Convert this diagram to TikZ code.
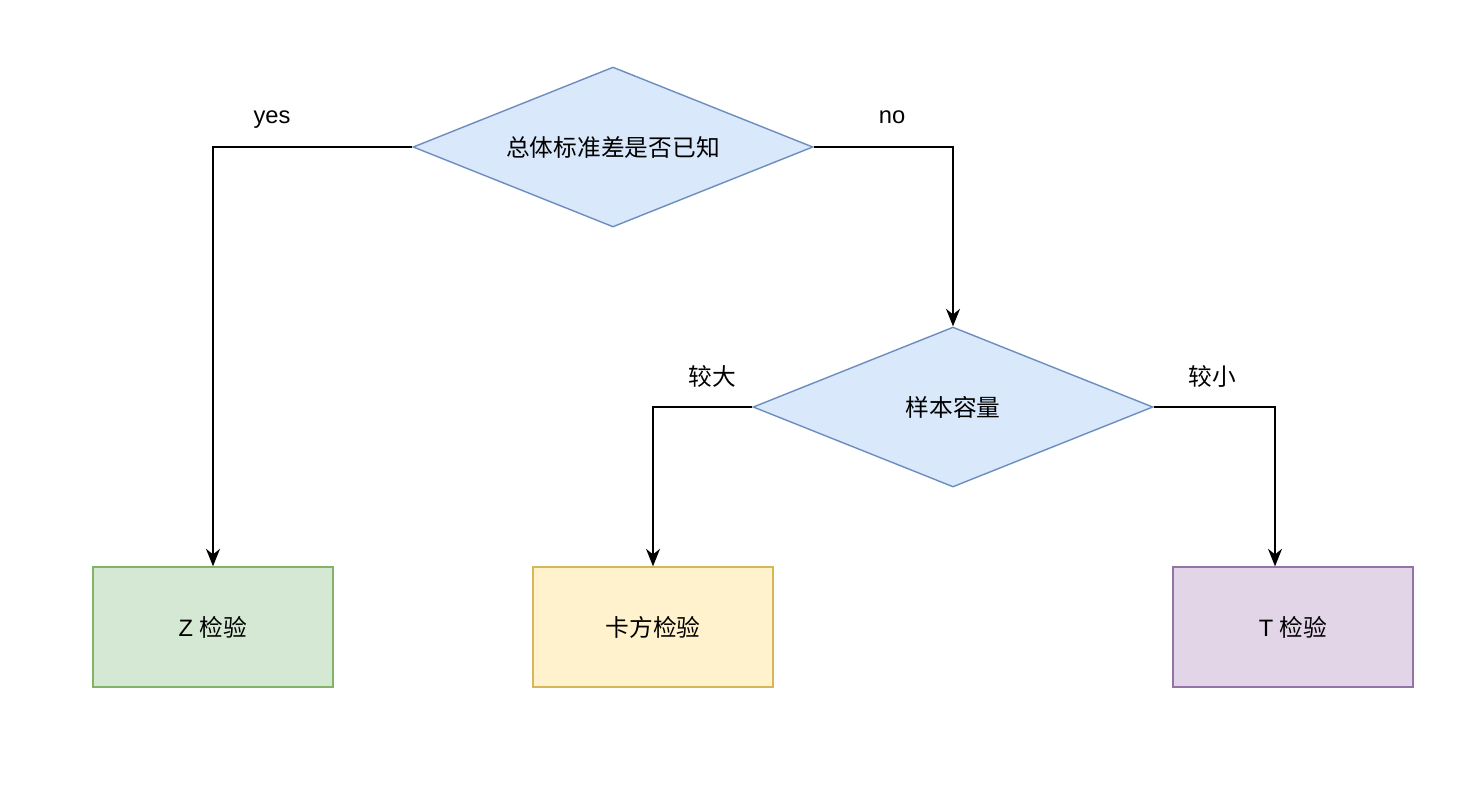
\documentclass[tikz,border=0pt]{standalone}
\usepackage{fontspec}
\setmainfont{Liberation Sans}
\newfontfamily\cjk{Noto Sans CJK SC}
\usepackage{tikz}
\usetikzlibrary{shapes.geometric,arrows.meta}
\definecolor{bluefill}{HTML}{DAE8FC}
\definecolor{blueline}{HTML}{6C8EBF}
\definecolor{greenfill}{HTML}{D5E8D4}
\definecolor{greenline}{HTML}{82B366}
\definecolor{yellowfill}{HTML}{FFF2CC}
\definecolor{yellowline}{HTML}{D6B656}
\definecolor{purplefill}{HTML}{E1D5E7}
\definecolor{purpleline}{HTML}{9673A6}

\begin{document}
\begin{tikzpicture}[
  x=0.02cm, y=-0.02cm,
  decision/.style={draw=blueline, fill=bluefill, diamond, aspect=2.5, minimum width=8cm, minimum height=3.2cm, inner sep=0pt, line width=0.8pt, font=\cjk\fontsize{13.5}{16}\selectfont},
  result/.style={draw, minimum width=4.8cm, minimum height=2.4cm, inner sep=0pt, line width=0.8pt, font=\fontsize{13.5}{16}\selectfont},
  lbl/.style={font=\fontsize{13.5}{16}\selectfont},
  >={Stealth[length=10pt,width=8pt]}
]
\useasboundingbox (0,0) rectangle (1476,796);

\node[decision] (known) at (613,147) {总体标准差是否已知};
\node[decision] (size) at (953,407) {样本容量};

\node[result, draw=greenline, fill=greenfill] (ztest) at (213,627) {Z {\cjk 检验}};
\node[result, draw=yellowline, fill=yellowfill] (chitest) at (653,627) {\cjk 卡方检验};
\node[result, draw=purpleline, fill=purplefill] (ttest) at (1293,627) {T {\cjk 检验}};

\node[lbl] (lyes) at (272,120) {yes};
\node[lbl] (lno) at (892,117) {no};
\node[lbl] (lbig) at (712,376) {\cjk 较大};
\node[lbl] (lsmall) at (1212,376) {\cjk 较小};

\draw[->, line width=0.8pt] (known.west) -| (ztest.north);
\draw[->, line width=0.8pt] (known.east) -| (size.north);
\draw[->, line width=0.8pt] (size.west) -| (chitest.north);
\draw[->, line width=0.8pt] (size.east) -| ([xshift=-0.36cm]ttest.north);
\end{tikzpicture}
\end{document}
